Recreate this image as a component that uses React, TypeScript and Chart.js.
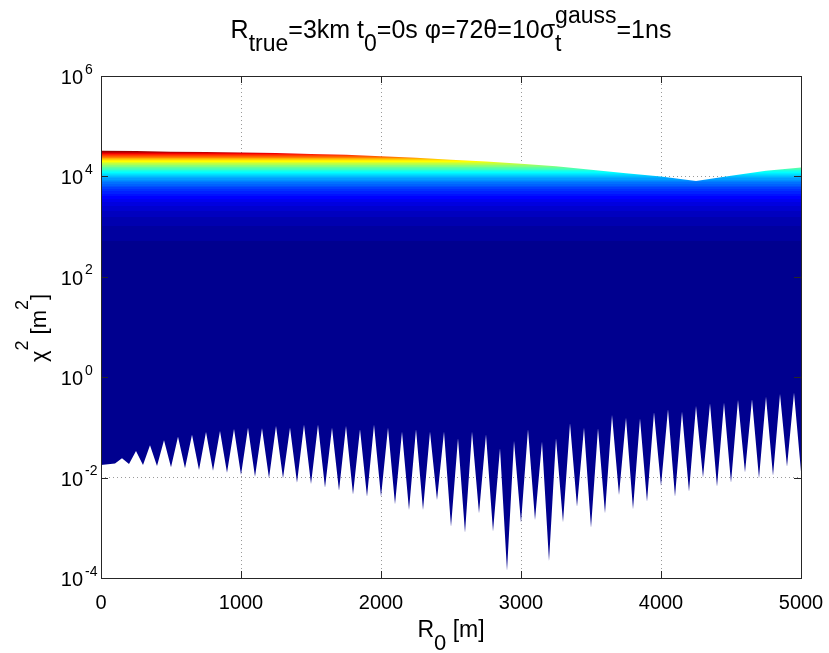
import React, { useEffect, useRef } from 'react';
import { Chart, registerables } from 'chart.js';

Chart.register(...registerables);

// ---------------- data ----------------
const TITLE_PARTS = [
  { t: 'R' }, { sub: 'true' }, { t: '=3km t' }, { sub: '0' },
  { t: '=0s φ=72θ=10σ' }, { sub: 't', sup: 'gauss' }, { t: '=1ns' },
];
const X_LABEL_PARTS = [{ t: 'R' }, { sub: '0' }, { t: ' [m]' }];
const Y_LABEL_PARTS = [{ t: 'χ' }, { sup: '2' }, { t: ' [m' }, { sup: '2' }, { t: ']' }];

const X_TICKS = [0, 1000, 2000, 3000, 4000, 5000];
const Y_TICK_EXPONENTS = [-4, -2, 0, 2, 4, 6];

// upper edge of the χ² surface
const R_TOP = [0, 250, 500, 750, 1000, 1250, 1500, 1750, 2000, 2250, 2500, 2750, 3000, 3250, 3500, 3750, 4000, 4250, 4500, 4750, 5000];
const CHI2_TOP = [32400, 32000, 31000, 30500, 30000, 29200, 28000, 27000, 25200, 23400, 21400, 19900, 17800, 15900, 13500, 11500, 10000, 8100, 10300, 12900, 15100];

// lower edge: minima (every 100 m) and the maxima between them
const R_TROUGH = [0, 100, 200, 300, 400, 500, 600, 700, 800, 900, 1000, 1100, 1200, 1300, 1400, 1500, 1600, 1700, 1800, 1900, 2000, 2100, 2200, 2300, 2400, 2500, 2600, 2700, 2800, 2900, 3000, 3100, 3200, 3300, 3400, 3500, 3600, 3700, 3800, 3900, 4000, 4100, 4200, 4300, 4400, 4500, 4600, 4700, 4800, 4900, 5000];
const CHI2_TROUGH = [0.0178, 0.0192, 0.0186, 0.0178, 0.0170, 0.0160, 0.0153, 0.0142, 0.0137, 0.0125, 0.0113, 0.0104, 0.00966, 0.00966, 0.00792, 0.00745, 0.00631, 0.0055, 0.00463, 0.00417, 0.00417, 0.00293, 0.00226, 0.00226, 0.00358, 0.00105, 0.0008, 0.00194, 0.00084, 0.00014, 0.00126, 0.00143, 0.000218, 0.00129, 0.00264, 0.001, 0.00194, 0.0045, 0.00233, 0.00331, 0.00679, 0.00417, 0.00525, 0.01, 0.00659, 0.00792, 0.0127, 0.00966, 0.0109, 0.0165, 0.0131];
const R_PEAK = [50, 150, 250, 350, 450, 550, 650, 750, 850, 950, 1050, 1150, 1250, 1350, 1450, 1550, 1650, 1750, 1850, 1950, 2050, 2150, 2250, 2350, 2450, 2550, 2650, 2750, 2850, 2950, 3050, 3150, 3250, 3350, 3450, 3550, 3650, 3750, 3850, 3950, 4050, 4150, 4250, 4350, 4450, 4550, 4650, 4750, 4850, 4950];
const CHI2_PEAK = [0.0185, 0.0242, 0.0339, 0.044, 0.0552, 0.0653, 0.0716, 0.0809, 0.0847, 0.0929, 0.0986, 0.0957, 0.107, 0.0986, 0.113, 0.113, 0.0986, 0.107, 0.0914, 0.113, 0.0986, 0.0822, 0.0914, 0.0822, 0.0822, 0.0605, 0.0822, 0.0724, 0.0383, 0.0536, 0.0914, 0.052, 0.0605, 0.1205, 0.0986, 0.0957, 0.1766, 0.156, 0.151, 0.2, 0.229, 0.206, 0.267, 0.301, 0.31, 0.352, 0.362, 0.409, 0.462, 0.492];

// ---------------- helpers ----------------
const FONT = '"Liberation Sans", Arial, Helvetica, sans-serif';

function jet64(): number[][] {
  const n = 16, m = 64;
  const u: number[] = [];
  for (let i = 1; i <= n; i++) u.push(i / n);
  for (let i = 1; i < n; i++) u.push(1);
  for (let i = n; i >= 1; i--) u.push(i / n);
  const J = Array.from({ length: m }, () => [0, 0, 0]);
  u.forEach((val, k) => {
    const g = 8 + k + 1;
    const r = g + n;
    const b = g - n;
    if (r <= m) J[r - 1][0] = val;
    if (g <= m) J[g - 1][1] = val;
    if (b >= 1) J[b - 1][2] = val;
  });
  return J;
}
const JET = jet64();
const rgb = (c: number[]) => `rgb(${Math.round(c[0] * 255)},${Math.round(c[1] * 255)},${Math.round(c[2] * 255)})`;

function surfaceGradient(chart: any) {
  const area = chart.chartArea;
  const ys = chart.scales && chart.scales.y;
  if (!area || !ys) return rgb(JET[0]);
  const g = chart.ctx.createLinearGradient(0, area.top, 0, area.bottom);
  const cmax = Math.max(...CHI2_TOP);
  const cmin = Math.min(...CHI2_TROUGH);
  const h = area.bottom - area.top;
  g.addColorStop(0, rgb(JET[63]));
  for (let k = 63; k >= 1; k--) {
    const v = cmin + (k * (cmax - cmin)) / 64;
    const off = Math.min(1, Math.max(0, (ys.getPixelForValue(v) - area.top) / h));
    g.addColorStop(off, rgb(JET[k]));
    g.addColorStop(off, rgb(JET[k - 1]));
  }
  g.addColorStop(1, rgb(JET[0]));
  return g;
}

type Part = { t?: string; sub?: string; sup?: string };
function partsWidth(ctx: CanvasRenderingContext2D, parts: Part[], size: number, small: number) {
  let w = 0;
  for (const p of parts) {
    if (p.t) { ctx.font = `${size}px ${FONT}`; w += ctx.measureText(p.t).width; }
    else {
      ctx.font = `${small}px ${FONT}`;
      w += Math.max(p.sub ? ctx.measureText(p.sub).width : 0, p.sup ? ctx.measureText(p.sup).width : 0);
    }
  }
  return w;
}
function drawParts(ctx: CanvasRenderingContext2D, parts: Part[], cx: number, baseline: number, size: number, small: number, subDy: number, supDy: number) {
  let x = cx - partsWidth(ctx, parts, size, small) / 2;
  ctx.textAlign = 'left';
  ctx.textBaseline = 'alphabetic';
  for (const p of parts) {
    if (p.t) {
      ctx.font = `${size}px ${FONT}`;
      ctx.fillText(p.t, x, baseline);
      x += ctx.measureText(p.t).width;
    } else {
      ctx.font = `${small}px ${FONT}`;
      let w = 0;
      if (p.sub) { ctx.fillText(p.sub, x, baseline + subDy); w = Math.max(w, ctx.measureText(p.sub).width); }
      if (p.sup) { ctx.fillText(p.sup, x, baseline - supDy); w = Math.max(w, ctx.measureText(p.sup).width); }
      x += w;
    }
  }
}

const decorPlugin = {
  id: 'matlabDecor',
  afterDraw(chart: any) {
    const { ctx, chartArea: a, scales } = chart;
    const xs = scales.x, ys = scales.y;
    ctx.save();
    // box
    ctx.strokeStyle = '#262626';
    ctx.lineWidth = 1;
    ctx.strokeRect(Math.round(a.left) + 0.5, Math.round(a.top) + 0.5, Math.round(a.right - a.left), Math.round(a.bottom - a.top));
    // inward tick marks
    const TL = 7;
    ctx.beginPath();
    for (const v of X_TICKS) {
      const px = Math.round(xs.getPixelForValue(v)) + 0.5;
      ctx.moveTo(px, a.bottom); ctx.lineTo(px, a.bottom - TL);
      ctx.moveTo(px, a.top); ctx.lineTo(px, a.top + TL);
    }
    for (const e of Y_TICK_EXPONENTS) {
      const py = Math.round(ys.getPixelForValue(Math.pow(10, e))) + 0.5;
      ctx.moveTo(a.left, py); ctx.lineTo(a.left + TL, py);
      ctx.moveTo(a.right, py); ctx.lineTo(a.right - TL, py);
    }
    ctx.stroke();

    ctx.fillStyle = '#000';
    // x tick labels
    ctx.font = `20px ${FONT}`;
    ctx.textAlign = 'center';
    ctx.textBaseline = 'alphabetic';
    for (const v of X_TICKS) {
      ctx.fillText(String(v), xs.getPixelForValue(v), a.bottom + 31);
    }
    // y tick labels 10^n
    for (const e of Y_TICK_EXPONENTS) {
      const py = ys.getPixelForValue(Math.pow(10, e));
      ctx.font = `20px ${FONT}`;
      ctx.textAlign = 'right';
      ctx.fillText('10', a.left - 18, py + 8);
      ctx.font = `14px ${FONT}`;
      ctx.textAlign = 'left';
      ctx.fillText(String(e), a.left - 16, py - 2.5);
    }
    // title
    const cx = (a.left + a.right) / 2;
    drawParts(ctx, TITLE_PARTS, cx, 38, 25, 23, 13, 15);
    // x label
    drawParts(ctx, X_LABEL_PARTS, cx, 637, 23, 22, 13, 12);
    // y label (rotated)
    ctx.save();
    ctx.translate(46, (a.top + a.bottom) / 2 + 1);
    ctx.rotate(-Math.PI / 2);
    drawParts(ctx, Y_LABEL_PARTS, 0, 0, 22, 18, 12, 18);
    ctx.restore();
    ctx.restore();
  },
};

export default function App() {
  const ref = useRef<HTMLCanvasElement>(null);
  useEffect(() => {
    document.body.style.margin = '0';
    const canvas = ref.current;
    if (!canvas) return;

    const topPts = R_TOP.map((r, i) => ({ x: r, y: CHI2_TOP[i] }));
    const bottomPts = [
      ...R_TROUGH.map((r, i) => ({ x: r, y: CHI2_TROUGH[i] })),
      ...R_PEAK.map((r, i) => ({ x: r, y: CHI2_PEAK[i] })),
    ].sort((p, q) => p.x - q.x);

    const chart = new Chart(canvas, {
      type: 'line',
      data: {
        datasets: [
          {
            label: 'upper',
            data: topPts,
            borderWidth: 0,
            pointRadius: 0,
            tension: 0,
            fill: '+1',
            backgroundColor: (c: any) => surfaceGradient(c.chart),
          },
          {
            label: 'lower',
            data: bottomPts,
            borderWidth: 0,
            pointRadius: 0,
            tension: 0,
            fill: false,
            backgroundColor: 'transparent',
          },
        ],
      },
      options: {
        responsive: false,
        animation: false,
        devicePixelRatio: 1,
        layout: { padding: { top: 76, right: 28, left: 0, bottom: 0 } },
        plugins: { legend: { display: false }, tooltip: { enabled: false }, title: { display: false } },
        scales: {
          x: {
            type: 'linear',
            min: 0,
            max: 5000,
            ticks: { display: false, stepSize: 1000 },
            afterBuildTicks: (s: any) => { s.ticks = X_TICKS.map((v) => ({ value: v })); },
            afterFit: (s: any) => { s.height = 75; },
            grid: { color: '#9a9a9a', lineWidth: 1, drawTicks: false },
            border: { display: false, dash: [1, 3] },
          },
          y: {
            type: 'logarithmic',
            min: 1e-4,
            max: 1e6,
            ticks: { display: false },
            afterBuildTicks: (s: any) => { s.ticks = Y_TICK_EXPONENTS.map((e) => ({ value: Math.pow(10, e) })); },
            afterFit: (s: any) => { s.width = 101; },
            grid: { color: '#9a9a9a', lineWidth: 1, drawTicks: false },
            border: { display: false, dash: [1, 3] },
          },
        },
      },
      plugins: [decorPlugin],
    });
    return () => chart.destroy();
  }, []);

  return (
    <div style={{ width: 829, height: 653, background: '#fff' }}>
      <canvas ref={ref} width={829} height={653} style={{ display: 'block', width: 829, height: 653 }} />
    </div>
  );
}
